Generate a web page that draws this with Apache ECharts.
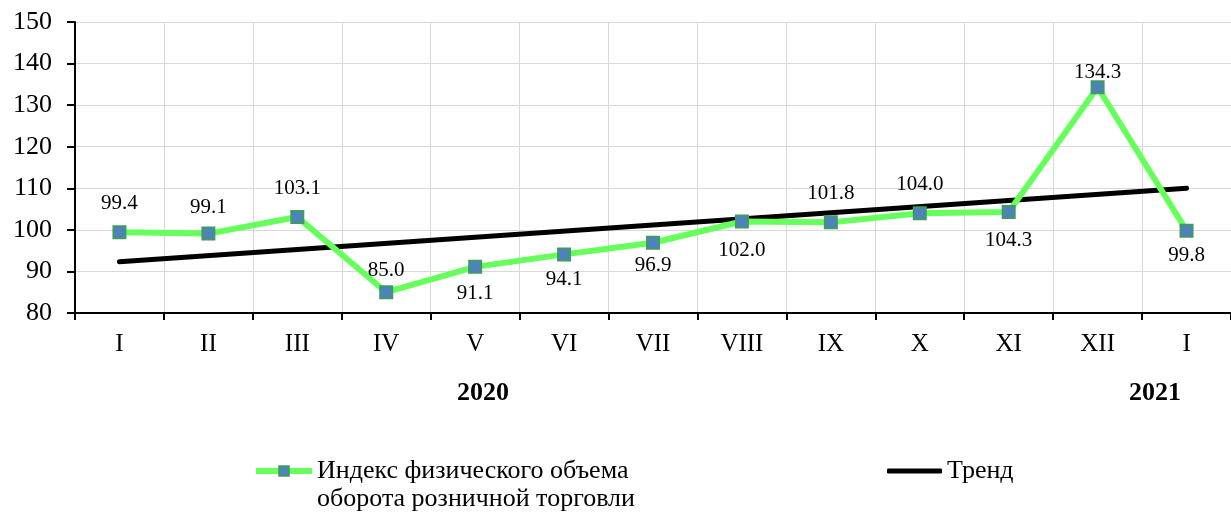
<!DOCTYPE html>
<html>
<head>
<meta charset="utf-8">
<script src="https://cdn.jsdelivr.net/npm/echarts@6/dist/echarts.min.js"></script>
<style>
html,body{margin:0;padding:0;background:#fff;}
#chart{width:1231px;height:513px;}
</style>
</head>
<body>
<div id="chart"></div>
<script>
// ---- data ----
const categories = ['I','II','III','IV','V','VI','VII','VIII','IX','X','XI','XII','I'];
const indexValues = [99.4, 99.1, 103.1, 85.0, 91.1, 94.1, 96.9, 102.0, 101.8, 104.0, 104.3, 134.3, 99.8];
const trendStart = 92.3;
const trendEnd = 110.0;
const yearLabels = ['2020', '2021'];
const seriesNames = ['Индекс физического объема\nоборота розничной торговли', 'Тренд'];

// ---- layout / style (not data) ----
const FONT = '"Liberation Serif", "Times New Roman", serif';
// vertical label offsets (px) per point; negative = above
const labelDy = [-29, -26, -28, -22, 27, 25, 23, 29, -29, -29, 29, -15, 25];

const trendData = categories.map((c, i) => i === 0 ? trendStart : (i === categories.length - 1 ? trendEnd : null));

const chart = echarts.init(document.getElementById('chart'), null, {renderer: 'canvas'});
chart.setOption({
  animation: false,
  backgroundColor: '#fff',
  grid: {left: 75, top: 22, width: 1165, height: 291, containLabel: false},
  xAxis: {
    type: 'category',
    data: categories,
    boundaryGap: true,
    axisLine: {lineStyle: {color: '#000', width: 2}},
    axisTick: {show: true, length: 7, interval: 0, lineStyle: {color: '#000', width: 2}},
    axisLabel: {interval: 0, margin: 19, color: '#000', fontFamily: FONT, fontSize: 25},
    splitLine: {show: true, interval: 0, lineStyle: {color: '#d9d9d9', width: 1}}
  },
  yAxis: {
    type: 'value',
    min: 80, max: 150, interval: 10,
    axisLine: {show: true, lineStyle: {color: '#000', width: 2}},
    axisTick: {show: true, length: 8, lineStyle: {color: '#000', width: 2}},
    axisLabel: {margin: 23, color: '#000', fontFamily: FONT, fontSize: 26},
    splitLine: {show: true, lineStyle: {color: '#d9d9d9', width: 1}}
  },
  legend: [
    {
      data: [seriesNames[0]],
      left: 253, top: 429, padding: 0,
      itemWidth: 56, itemHeight: 12, itemGap: 4,
      lineStyle: {width: 6},
      formatter: name => '\n' + name,
      textStyle: {color: '#000', fontFamily: FONT, fontSize: 26, lineHeight: 28}
    },
    {
      data: [{name: seriesNames[1], icon: 'roundRect'}],
      left: 887, top: 457, padding: 0,
      itemWidth: 55, itemHeight: 5, itemGap: 4,
      itemStyle: {color: '#000'},
      textStyle: {color: '#000', fontFamily: FONT, fontSize: 26, lineHeight: 28}
    }
  ],
  graphic: [
    {type: 'text', left: 457, top: 380, style: {text: yearLabels[0], fill: '#000', font: 'bold 26px ' + FONT}},
    {type: 'text', left: 1129, top: 380, style: {text: yearLabels[1], fill: '#000', font: 'bold 26px ' + FONT}}
  ],
  series: [
    {
      name: seriesNames[1],
      type: 'line',
      data: trendData,
      connectNulls: true,
      symbol: 'none',
      z: 2,
      lineStyle: {color: '#000', width: 5, cap: 'round'},
      itemStyle: {color: '#000'}
    },
    {
      name: seriesNames[0],
      type: 'line',
      data: indexValues.map((v, i) => ({
        value: v,
        label: {offset: [0, labelDy[i]]}
      })),
      symbol: 'rect',
      symbolSize: 12,
      z: 3,
      lineStyle: {color: '#66ff5c', width: 6},
      itemStyle: {color: '#4f81bd', borderColor: '#3f9a66', borderWidth: 2},
      label: {
        show: true,
        position: 'inside',
        formatter: p => p.value.toFixed(1),
        color: '#000',
        fontFamily: FONT,
        fontSize: 21
      }
    }
  ]
});
</script>
</body>
</html>
